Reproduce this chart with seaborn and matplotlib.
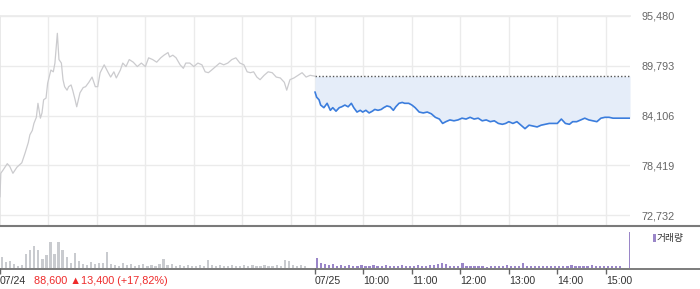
import matplotlib
matplotlib.use("Agg")
import matplotlib.pyplot as plt
import seaborn as sns
import pandas as pd
from matplotlib.lines import Line2D
from matplotlib.patches import Rectangle

# ---- data (minutes from 09:00 of each session, price in KRW) ----
day1_min = [0, 1, 4, 9, 12, 16, 21, 27, 31, 35, 37, 40, 42, 45, 47, 50, 52, 54, 57, 59,
            63, 66, 68, 71, 73, 76, 78, 80, 83, 85, 88, 90, 93, 95, 99, 103, 106, 110, 114, 118,
            121, 124, 129, 134, 137, 141, 144, 149, 152, 156, 160, 165, 170, 175, 180, 184, 189, 194, 199, 203,
            208, 210, 214, 218, 223, 227, 230, 235, 240, 245, 250, 254, 258, 262, 267, 272, 277, 282, 287, 292,
            297, 302, 306, 310, 314, 318, 322, 327, 332, 337, 342, 347, 352, 355, 359, 364, 369, 374, 379, 384, 390]
day1_price = [74800, 77500, 77900, 78600, 78300, 77500, 78200, 78700, 79800, 81000, 81900, 82400, 83200, 83900, 85500, 83800, 84400, 85900, 86100, 87800,
              89300, 89100, 90100, 93500, 90500, 90100, 88200, 87400, 87000, 87400, 87600, 87000, 85900, 85100, 86700, 87300, 87400, 87900, 88500, 87400,
              87400, 89000, 89900, 89000, 88500, 89100, 88400, 89300, 90100, 89700, 90500, 90200, 89700, 90100, 89700, 90700, 90500, 90200, 90700, 91000,
              91300, 90800, 91000, 90700, 89900, 89500, 90100, 90100, 89700, 90100, 89900, 89100, 89000, 89300, 89700, 90100, 89900, 90100, 90500, 90700,
              90100, 89900, 89100, 89000, 89100, 88500, 88200, 88700, 89100, 89000, 88500, 88400, 87900, 87000, 88200, 88400, 88700, 89000, 88500, 88700, 88600]

day2_min = [0, 2, 5, 7, 11, 15, 19, 22, 26, 30, 33, 37, 41, 45, 48, 52, 56, 59, 63, 67,
            71, 74, 78, 82, 85, 89, 93, 97, 100, 104, 108, 111, 116, 120, 124, 129, 134, 139, 144, 149,
            154, 158, 162, 167, 172, 177, 182, 187, 192, 197, 202, 207, 212, 217, 222, 227, 232, 236, 240, 245,
            250, 255, 260, 265, 270, 275, 280, 285, 290, 295, 300, 305, 310, 315, 319, 324, 329, 334, 339, 344,
            349, 354, 359, 364, 369, 376, 386, 390]
day2_price = [86800, 86200, 85900, 85300, 85000, 85500, 84700, 85000, 84600, 85000, 85100, 85300, 85100, 85500, 85000, 84500, 84700, 84500, 84700, 84400,
              84600, 84800, 84700, 84800, 85000, 85200, 85100, 84700, 85100, 85500, 85600, 85500, 85500, 85300, 85000, 84500, 84400, 84500, 84300, 83900,
              83700, 83200, 83400, 83600, 83500, 83600, 83800, 83700, 83900, 83700, 83800, 83500, 83600, 83400, 83500, 83200, 83100, 83200, 83400, 83200,
              83400, 83000, 82600, 83000, 82900, 82800, 83000, 83100, 83200, 83200, 83200, 83700, 83200, 83100, 83400, 83400, 83600, 83800, 83600, 83500,
              83400, 83800, 83900, 83900, 83800, 83800, 83800, 83800]

prev_close = 88600
y_ticks = [72732, 78419, 84106, 89793, 95480]
x_tick_labels = ["07/24", "07/25", "10:00", "11:00", "12:00", "13:00", "14:00", "15:00"]
x_tick_pos = [0, 390, 450, 510, 570, 630, 690, 750]
grid_pos = [60, 120, 180, 240, 300, 360, 390, 450, 510, 570, 630, 690, 750]

# volume per 5-minute bin (thousand shares)
day1_vol = [11, 6, 7, 4, 2, 3, 14, 18, 22, 18, 9, 13, 26, 14, 26, 18, 11, 5, 15, 7,
            4, 3, 6, 4, 5, 5, 16, 4, 3, 2, 5, 3, 4, 2, 3, 4, 2, 3, 2, 4,
            9, 3, 4, 2, 3, 2, 3, 2, 2, 3, 2, 8, 3, 2, 3, 2, 2, 3, 2, 2,
            3, 2, 3, 2, 2, 3, 2, 2, 3, 2, 8, 7, 3, 2, 3, 2, 0, 0]
day2_vol = [10, 5, 4, 3, 4, 2, 3, 2, 3, 2, 2, 3, 2, 2, 3, 2, 2, 3, 2, 2,
            2, 3, 2, 2, 2, 3, 2, 2, 3, 3, 4, 5, 4, 2, 2, 2, 5, 2, 2, 2,
            2, 2, 1, 2, 2, 2, 2, 3, 2, 2, 2, 5, 2, 2, 2, 2, 2, 2, 2, 2,
            2, 2, 2, 3, 2, 2, 2, 2, 3, 2, 2, 2, 2, 2, 2, 2, 0, 36]

vol_label = "거래량"
summary = "88,600 ▲13,400 (+17,82%)"

# ---- styling ----
sns.set_theme(style="white")
plt.rcParams["font.family"] = ["Liberation Sans", "DejaVu Sans"]

W, H = 700, 289
fig = plt.figure(figsize=(7, 2.89), dpi=100)
ax = fig.add_axes([0, 1 - 225 / H, 630 / W, (225 - 16) / H])
axv = fig.add_axes([0, 1 - 268 / H, 630 / W, (268 - 228) / H])

gray_line = "#cbcbce"
blue = "#3b7ddd"
fill = "#e5edf9"
purple = "#9a86c8"
gray_bar = "#c9cbcf"

df1 = pd.DataFrame({"t": day1_min, "p": day1_price})
df2 = pd.DataFrame({"t": [390 + m for m in day2_min], "p": day2_price})

ax.fill_between(df2["t"], df2["p"], prev_close, color=fill, lw=0, zorder=1)
sns.lineplot(data=df1, x="t", y="p", ax=ax, color=gray_line, lw=0.9, zorder=3)
sns.lineplot(data=df2, x="t", y="p", ax=ax, color=blue, lw=1.2, zorder=3)
ax.plot([390, 780], [prev_close, prev_close], color="#555555", ls=(0, (1, 1.5)), lw=1, zorder=2)

ax.set_xlim(0, 780)
ax.set_ylim(72732 - 1143, 95480)
ax.set_xticks(grid_pos)
ax.set_xticklabels([])
ax.set_yticks(y_ticks)
ax.set_yticklabels([f"{v:,}" for v in y_ticks])
ax.yaxis.tick_right()
ax.tick_params(axis="y", length=0, pad=8, labelsize=7.8, labelcolor="#666666")
ax.tick_params(axis="x", length=0)
ax.grid(True, color="#ebebeb", lw=1)
ax.set_axisbelow(True)
ax.set_xlabel("")
ax.set_ylabel("")
for s in ["right", "bottom"]:
    ax.spines[s].set_visible(False)
ax.spines["left"].set_color("#e6e6e6")
ax.spines["top"].set_color("#ebebeb")

# volume bars
x1 = [i * 5 + 2.5 for i in range(len(day1_vol))]
x2 = [390 + i * 5 + 2.5 for i in range(len(day2_vol))]
axv.bar(x1, day1_vol, width=2.8, color=gray_bar, lw=0)
axv.bar(x2[:-1], day2_vol[:-1], width=2.8, color=purple, lw=0)
axv.bar([780 - 1], day2_vol[-1:], width=1.2, color=purple, lw=0)
axv.set_xlim(0, 780)
axv.set_ylim(0, 40)
axv.set_yticks([])
axv.set_xticks(x_tick_pos)
axv.set_xticklabels(x_tick_labels)
axv.tick_params(axis="x", length=4, width=1, color="#666666", pad=2,
                labelsize=7.6, labelcolor="#333333", direction="out", bottom=True)
for lab in axv.get_xticklabels():
    lab.set_ha("left")
for s in ["left", "right", "top", "bottom"]:
    axv.spines[s].set_visible(False)
axv.set_facecolor("none")

# separators spanning the full width
fig.add_artist(Line2D([0, 1], [1 - 225.5 / H] * 2, color="#7a7a7a", lw=1.5, transform=fig.transFigure))
fig.add_artist(Line2D([0, 1], [1 - 268.5 / H] * 2, color="#666666", lw=1.2, transform=fig.transFigure))

fig.text(34 / W, 1 - 280.5 / H, summary, color="#ee2a2a", fontsize=7.8, va="center", ha="left")

fig.add_artist(Rectangle((653 / W, 1 - 242 / H), 2.5 / W, 8 / H, transform=fig.transFigure,
                         color=purple, lw=0))
fig.text(657 / W, 1 - 238.5 / H, vol_label, family=["Noto Sans CJK KR", "DejaVu Sans"],
         fontsize=7, color="#333333", va="center", ha="left")

fig.savefig("out.png", dpi=100)
